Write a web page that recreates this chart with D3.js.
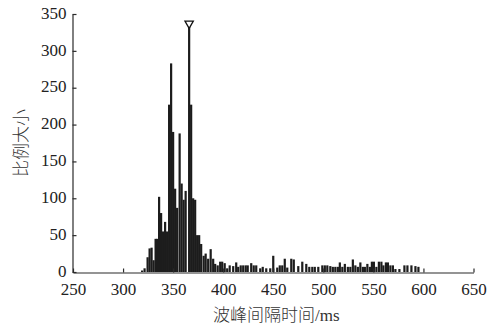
<!DOCTYPE html>
<html>
<head>
<meta charset="utf-8">
<script src="https://cdn.jsdelivr.net/npm/d3@7"></script>
<style>
  html, body { margin: 0; padding: 0; background: #fff; }
  .chart { width: 504px; height: 327px; }
</style>
</head>
<body>
<div class="chart"></div>
<script>
// Bin centers (ms) and their counts
var intervals = [
  319, 321.5, 324.5, 326.5, 328.5, 330.5, 332.5, 334, 336, 338,
  340, 342, 344, 346, 348, 350, 352, 354, 356.5, 358.5,
  360.5, 362.5, 366, 368, 370, 372, 374, 376, 378, 380.5,
  382.5, 385, 387.5, 390, 392, 394.5, 397, 399, 401.5, 404,
  406.5, 410, 413, 415, 417.5, 420, 422.5, 424.5, 428, 430.5,
  433, 437, 439.5, 443, 447, 450, 454, 456.5, 459, 461.5,
  464, 468, 470.5, 475, 479, 483, 486, 489, 491.5, 495,
  499, 501.5, 504, 507, 509.5, 512, 514.5, 516.5, 519, 521.5,
  524.5, 527, 529.5, 532, 534.5, 537, 539.5, 541.5, 544, 546.5,
  548.5, 550.5, 553, 555.5, 558, 560, 562.5, 564.5, 567, 569.5,
  572, 576, 581, 584, 588, 592, 595
];
var counts = [
  2, 5, 20, 32, 33, 16, 45, 45, 102, 80,
  55, 68, 55, 227, 283, 190, 113, 87, 188, 120,
  98, 110, 337, 227, 100, 98, 50, 50, 38, 22,
  25, 18, 31, 18, 11, 9, 14, 14, 12, 5,
  9, 8, 13, 7, 9, 9, 9, 9, 12, 9,
  9, 5, 7, 5, 5, 22, 6, 9, 9, 18,
  6, 18, 17, 8, 14, 11, 7, 7, 7, 7,
  9, 9, 9, 8, 7, 7, 7, 13, 7, 11,
  7, 7, 17, 9, 7, 13, 7, 7, 11, 7,
  14, 14, 7, 14, 14, 9, 13, 13, 9, 9,
  4, 4, 9, 9, 9, 8, 7
];
// Peak marked with a down triangle
var peakInterval = 366;
var peakCount = 337;

var xTicks = [250, 300, 350, 400, 450, 500, 550, 600, 650];
var yTicks = [0, 50, 100, 150, 200, 250, 300, 350];

var binWidth = 2.2;

// Setup the chart margins
var width = 504, height = 327;
var margin = { top: 14, right: 30, bottom: 55, left: 73 };
var axesColor = '#2b2b2b';
var barColor = '#1c1c1c';

var svg = d3.select('.chart').append('svg')
  .attr('width', width)
  .attr('height', height)
  .style('display', 'block');

var xScale = d3.scaleLinear()
  .domain([250, 650])
  .range([margin.left, width - margin.right - 0.5]);

var yScale = d3.scaleLinear()
  .domain([0, 350])
  .range([height - margin.bottom, margin.top]);

var data = intervals.map((d, i) => ({ x: d, y: counts[i] }));

// Draw the bars
svg.append('g')
  .attr('class', 'bars')
  .selectAll('rect')
  .data(data)
  .enter()
  .append('rect')
  .attr('x', d => xScale(d.x - binWidth / 2))
  .attr('width', d => xScale(d.x + binWidth / 2) - xScale(d.x - binWidth / 2))
  .attr('y', d => yScale(d.y))
  .attr('height', d => yScale(0) - yScale(d.y))
  .attr('fill', barColor);

// Peak marker (open down triangle)
svg.append('path')
  .attr('d', d3.symbol().type(d3.symbolTriangle).size(30))
  .attr('transform', 'translate(' + xScale(peakInterval) + ',' + yScale(peakCount) + ') rotate(180)')
  .attr('fill', '#fff')
  .attr('stroke', '#111')
  .attr('stroke-width', 1.3);

// x axis, ticks pointing inwards
var xAxis = d3.axisBottom(xScale)
  .tickValues(xTicks)
  .tickSize(-4)
  .tickSizeOuter(0)
  .tickPadding(11);

svg.append('g')
  .attr('class', 'x-axis')
  .attr('transform', 'translate(0,' + (yScale(0) + 0.5) + ')')
  .call(xAxis);

// y axis, ticks pointing inwards
var yAxis = d3.axisLeft(yScale)
  .tickValues(yTicks)
  .tickSize(-4)
  .tickSizeOuter(0)
  .tickPadding(6);

svg.append('g')
  .attr('class', 'y-axis')
  .attr('transform', 'translate(' + (margin.left - 0.5) + ',0)')
  .call(yAxis);

// Style both axes
svg.selectAll('.x-axis .domain, .y-axis .domain, .tick line')
  .attr('stroke', axesColor)
  .attr('stroke-width', 1.2);
svg.selectAll('.tick text')
  .attr('fill', '#222')
  .style('font-family', '"Liberation Serif", "DejaVu Serif", serif')
  .style('font-size', '17px');
svg.selectAll('.x-axis .tick text').attr('dy', '0.68em');
svg.selectAll('.y-axis .tick text').attr('dy', '0.25em');

// Axis labels
svg.append('text')
  .attr('x', (xScale(250) + xScale(650)) / 2 + 3)
  .attr('y', 321)
  .attr('text-anchor', 'middle')
  .attr('fill', '#333')
  .style('font-size', '17px')
  .html('<tspan style="font-family: \'Noto Sans CJK SC\'; font-weight: 300">波峰间隔时间</tspan><tspan style="font-family: \'Liberation Serif\'">/ms</tspan>');

svg.append('text')
  .attr('transform', 'translate(27,' + 143 + ') rotate(-90)')
  .attr('text-anchor', 'middle')
  .attr('fill', '#333')
  .style('font-family', '"Noto Sans CJK SC"')
  .style('font-weight', 300)
  .style('font-size', '17px')
  .text('比例大小');
</script>
</body>
</html>
